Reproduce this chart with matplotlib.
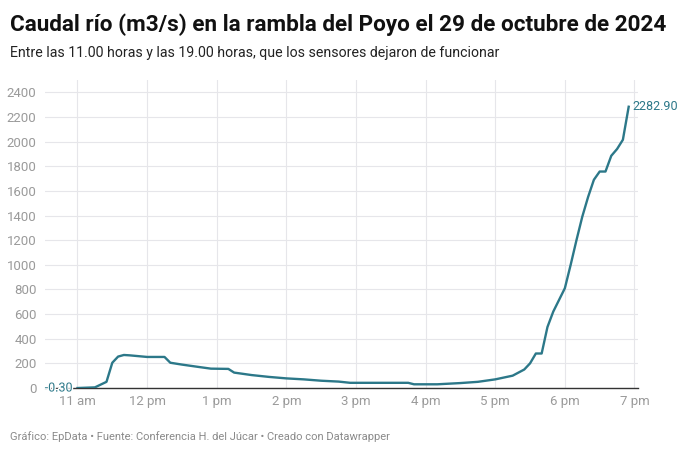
import matplotlib.pyplot as plt
import matplotlib.patheffects as pe

# Datos: minutos desde las 11:00 y caudal (m3/s)
horas = ["11:00", "11:15", "11:25", "11:30", "11:35", "11:40", "11:45", "12:00",
         "12:15", "12:20", "12:30", "12:45", "12:55", "13:10", "13:15", "13:30",
         "13:45", "14:00", "14:15", "14:30", "14:45", "14:55", "15:30", "15:45",
         "15:50", "16:10", "16:30", "16:45", "17:00", "17:15", "17:25", "17:30",
         "17:35", "17:40", "17:45", "17:50", "18:00", "18:05", "18:10", "18:15",
         "18:20", "18:25", "18:30", "18:35", "18:40", "18:45", "18:50", "18:55"]
caudal = [-0.30, 5, 50, 205, 255, 268, 265, 252,
          252, 205, 190, 170, 157, 155, 125, 105,
          90, 78, 70, 59, 52, 42, 42, 42,
          30, 30, 40, 50, 70, 100, 150, 200,
          280, 280, 495, 620, 810, 1000, 1200, 1390,
          1550, 1690, 1757, 1757, 1885, 1940, 2015, 2282.90]

ticks_x = [0, 60, 120, 180, 240, 300, 360, 420, 480]
etiquetas_x = ["11 am", "12 pm", "1 pm", "2 pm", "3 pm", "4 pm", "5 pm", "6 pm", "7 pm"]
ticks_y = list(range(0, 2401, 200))

minutos = [(int(h[:2]) - 11) * 60 + int(h[3:]) for h in horas]

plt.rcParams['font.family'] = ['Roboto', 'DejaVu Sans']

color_linea = '#2c7889'
gris = '#9a9a9a'

fig = plt.figure(figsize=(6.9, 4.53), dpi=100)
ax = fig.add_axes([0.0652, 0.1435, 0.8594, 0.6799])

ax.plot(minutos, caudal, color=color_linea, lw=1.7, solid_joinstyle='round', zorder=3)

ax.set_xlim(-28, 483)
ax.set_ylim(0, 2500)
ax.set_xticks(ticks_x)
ax.set_xticklabels(etiquetas_x)
ax.set_yticks(ticks_y)
ax.tick_params(axis='both', length=0, colors=gris, labelsize=9.5)
ax.tick_params(axis='y', pad=6)
ax.tick_params(axis='x', pad=5)

ax.grid(True, color='#e6e6ea', lw=0.8)
for s in ['top', 'right', 'left']:
    ax.spines[s].set_visible(False)
ax.spines['bottom'].set_color('#333333')
ax.spines['bottom'].set_linewidth(1.0)
ax.spines['bottom'].set_zorder(2)

# Etiquetas de valores inicial y final
ax.text(minutos[-1] + 3, caudal[-1], f"{caudal[-1]:.2f}", color=color_linea,
        fontsize=9, va='center', ha='left')
ax.text(minutos[0] - 4, 0, f"{caudal[0]:.2f}", color=color_linea,
        fontsize=9, va='center', ha='right', zorder=4,
        path_effects=[pe.withStroke(linewidth=2, foreground='white')])

fig.text(0.0145, 0.945, "Caudal río (m3/s) en la rambla del Poyo el 29 de octubre de 2024",
         fontsize=16.2, fontweight='bold', color='#111111', va='center', ha='left')
fig.text(0.0145, 0.883, "Entre las 11.00 horas y las 19.00 horas, que los sensores dejaron de funcionar",
         fontsize=10.2, color='#222222', va='center', ha='left')
fig.text(0.0145, 0.037, "Gráfico: EpData • Fuente: Conferencia H. del Júcar • Creado con Datawrapper",
         fontsize=8, color='#8a8a8a', va='center', ha='left')

fig.savefig('out.png', dpi=100, facecolor='white')
